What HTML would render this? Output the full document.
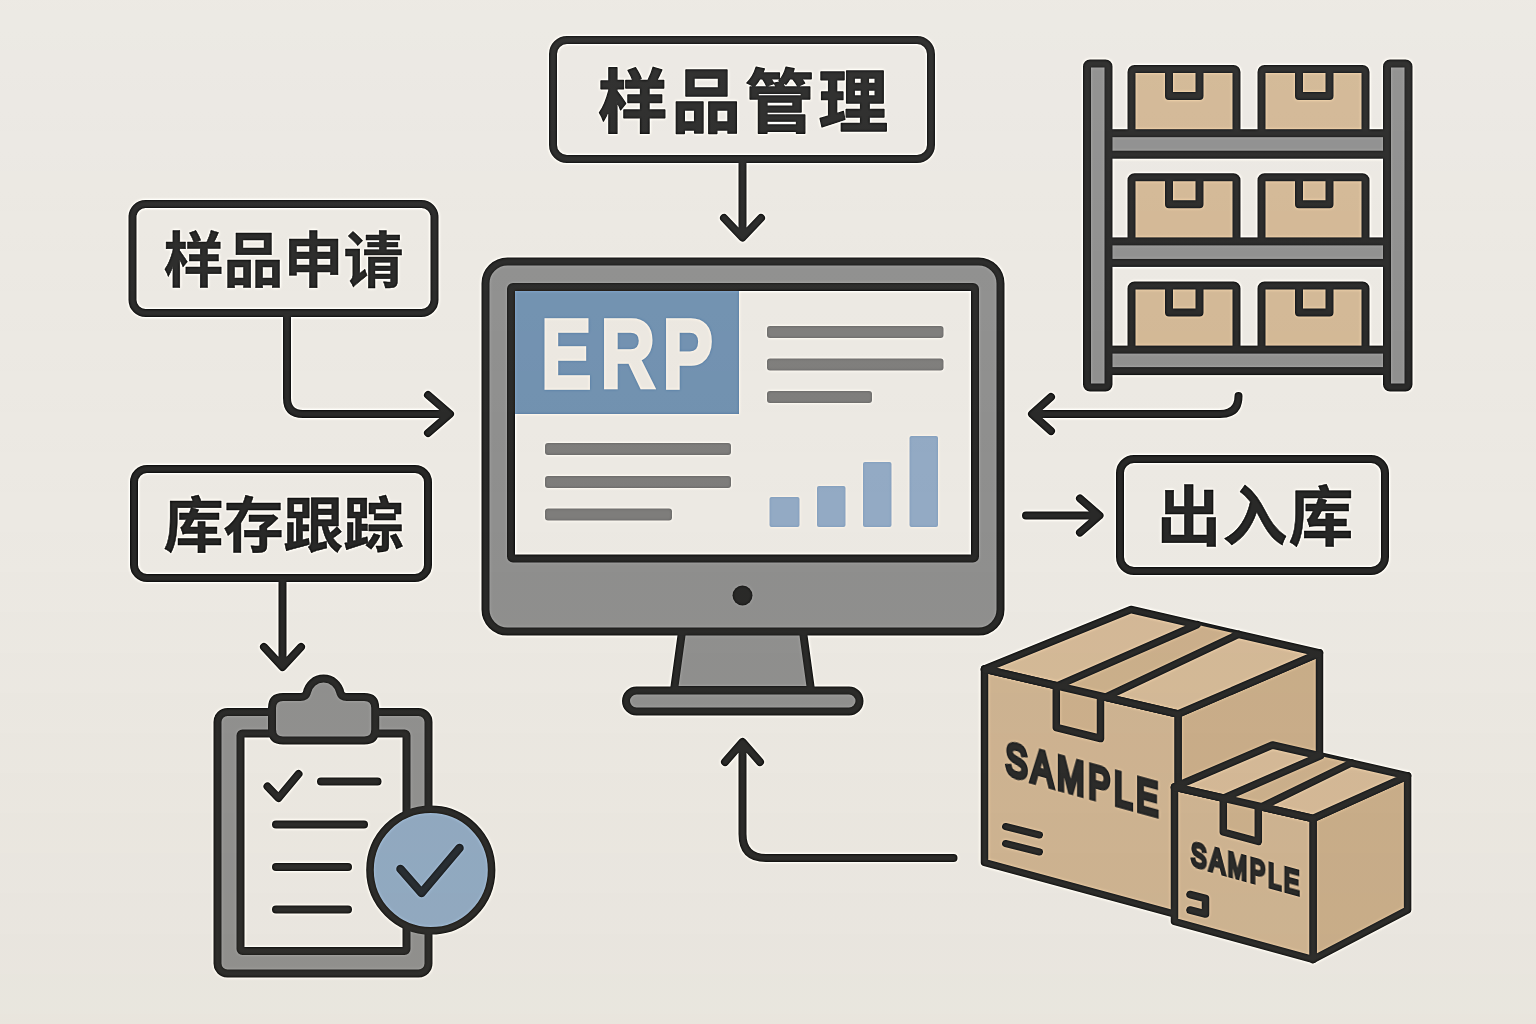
<!DOCTYPE html>
<html lang="zh-CN">
<head>
<meta charset="utf-8">
<title>ERP 样品管理</title>
<style>
html,body{margin:0;padding:0;background:#ece9e3;}
body{width:1536px;height:1024px;overflow:hidden;font-family:'Liberation Sans','Noto Sans CJK SC',sans-serif;}
svg{display:block;}
</style>
</head>
<body>
<svg width="1536" height="1024" viewBox="0 0 1536 1024">
<defs>
<linearGradient id="bgg" x1="0" y1="0" x2="0" y2="1">
<stop offset="0" stop-color="#fff" stop-opacity="0.05"/>
<stop offset="0.5" stop-color="#fff" stop-opacity="0"/>
<stop offset="0.5" stop-color="#b4a680" stop-opacity="0"/>
<stop offset="1" stop-color="#b4a680" stop-opacity="0.05"/>
</linearGradient>
<filter id="sharp" filterUnits="userSpaceOnUse" x="-40" y="-40" width="1616" height="1104" color-interpolation-filters="sRGB">
<feGaussianBlur in="SourceGraphic" stdDeviation="1.7" result="b"/>
<feComposite in="SourceGraphic" in2="b" operator="arithmetic" k1="0" k2="1.35" k3="-0.35" k4="0"/>
</filter>
</defs>
<g filter="url(#sharp)">
<rect x="-40" y="-40" width="1616" height="1104" fill="#ece9e3"/>
<!-- labels -->
<rect x="553" y="40" width="378" height="119" rx="14" ry="14" fill="none" stroke="#292928" stroke-width="8"/>
<text x="745" y="126.5" font-family="'Liberation Sans','Noto Sans CJK SC',sans-serif" font-weight="700" font-size="69.5" fill="#292928" stroke="#292928" stroke-width="1.4" stroke-linejoin="round" letter-spacing="4" text-anchor="middle">样品管理</text>
<rect x="132.5" y="204" width="302.0" height="109" rx="13" ry="13" fill="none" stroke="#292928" stroke-width="8"/>
<text x="283.5" y="281.5" font-family="'Liberation Sans','Noto Sans CJK SC',sans-serif" font-weight="700" font-size="60" fill="#292928" stroke="#292928" stroke-width="0.5" stroke-linejoin="round" letter-spacing="0" text-anchor="middle">样品申请</text>
<rect x="134" y="469" width="294" height="109" rx="13" ry="13" fill="none" stroke="#292928" stroke-width="8"/>
<text x="283.5" y="547" font-family="'Liberation Sans','Noto Sans CJK SC',sans-serif" font-weight="700" font-size="60" fill="#292928" stroke="#292928" stroke-width="0.5" stroke-linejoin="round" letter-spacing="0" text-anchor="middle">库存跟踪</text>
<rect x="1120" y="459" width="265" height="112" rx="14" ry="14" fill="none" stroke="#292928" stroke-width="8"/>
<text x="1255.5" y="540" font-family="'Liberation Sans','Noto Sans CJK SC',sans-serif" font-weight="700" font-size="65" fill="#292928" stroke="#292928" stroke-width="0.5" stroke-linejoin="round" letter-spacing="1" text-anchor="middle">出入库</text>
<!-- arrows -->
<path d="M742.5 163V237 M724 218L742.5 237.5L761 218" fill="none" stroke="#292928" stroke-width="8" stroke-linecap="round" stroke-linejoin="round"/>
<path d="M287 317V398Q287 414 303 414H449 M428 395L450 414L428 433" fill="none" stroke="#292928" stroke-width="8" stroke-linecap="round" stroke-linejoin="round"/>
<path d="M282.5 582V666 M264 647L282.5 667L301 647" fill="none" stroke="#292928" stroke-width="8" stroke-linecap="round" stroke-linejoin="round"/>
<path d="M1238.5 396Q1238.5 414 1220 414H1033 M1051 397L1032 414L1051 431" fill="none" stroke="#292928" stroke-width="8" stroke-linecap="round" stroke-linejoin="round"/>
<path d="M1026 515.5H1099 M1080 498.5L1099.5 515.5L1080 532.5" fill="none" stroke="#292928" stroke-width="8" stroke-linecap="round" stroke-linejoin="round"/>
<path d="M953.5 858H766Q742.5 858 742.5 834V744 M725 762L742.5 742L760 762" fill="none" stroke="#292928" stroke-width="8" stroke-linecap="round" stroke-linejoin="round"/>
<!-- monitor -->
<path d="M682.5 628L674 690H811L802.5 628" fill="#8f8f8e" stroke="#292928" stroke-width="8" stroke-linejoin="round"/>
<rect x="626" y="690.5" width="233.5" height="21" rx="10.5" fill="#8f8f8e" stroke="#292928" stroke-width="8"/>
<rect x="485.5" y="261.5" width="515" height="370" rx="22" fill="#8f8f8e" stroke="#292928" stroke-width="8"/>
<rect x="511" y="287" width="464" height="271.5" rx="2" fill="#ece9e3" stroke="#292928" stroke-width="8" stroke-linejoin="round"/>
<rect x="515" y="291" width="224" height="123" fill="#7191b0"/>
<text transform="translate(540.8 388) scale(0.77 1)" x="0 77.3 157.8" y="0" font-family="'Liberation Sans',sans-serif" font-weight="700" font-size="99" fill="#ece8e1" stroke="#ece8e1" stroke-width="3" stroke-linejoin="miter" vector-effect="non-scaling-stroke">ERP</text>
<rect x="767" y="326.0" width="176.5" height="12" rx="3" fill="#7e7d7b"/>
<rect x="767" y="358.5" width="176.5" height="12" rx="3" fill="#7e7d7b"/>
<rect x="767" y="391.0" width="105" height="12" rx="3" fill="#7e7d7b"/>
<rect x="545" y="443.0" width="186" height="12" rx="3" fill="#7e7d7b"/>
<rect x="545" y="476.0" width="186" height="12" rx="3" fill="#7e7d7b"/>
<rect x="545" y="508.5" width="127" height="12" rx="3" fill="#7e7d7b"/>
<rect x="769.5" y="497" width="30.0" height="30" rx="2" fill="#93aac4"/>
<rect x="817" y="486" width="28.5" height="41" rx="2" fill="#93aac4"/>
<rect x="863" y="462" width="28.5" height="65" rx="2" fill="#93aac4"/>
<rect x="909.5" y="436" width="28.5" height="91" rx="2" fill="#93aac4"/>
<circle cx="742.5" cy="595.5" r="10" fill="#292928"/>
<!-- shelf -->
<rect x="1131.5" y="69.0" width="105" height="66" rx="3" fill="#d3b895" stroke="#292928" stroke-width="8" stroke-linejoin="round"/>
<path d="M1169.0 69.0V96.0H1199.5V69.0" fill="none" stroke="#292928" stroke-width="8" stroke-linejoin="round"/>
<rect x="1261.5" y="69.0" width="104" height="66" rx="3" fill="#d3b895" stroke="#292928" stroke-width="8" stroke-linejoin="round"/>
<path d="M1299.0 69.0V96.0H1329.5V69.0" fill="none" stroke="#292928" stroke-width="8" stroke-linejoin="round"/>
<rect x="1108" y="133.2" width="279" height="21.5" fill="#8f8f8e" stroke="#292928" stroke-width="8"/>
<rect x="1131.5" y="177.2" width="105" height="66" rx="3" fill="#d3b895" stroke="#292928" stroke-width="8" stroke-linejoin="round"/>
<path d="M1169.0 177.2V204.2H1199.5V177.2" fill="none" stroke="#292928" stroke-width="8" stroke-linejoin="round"/>
<rect x="1261.5" y="177.2" width="104" height="66" rx="3" fill="#d3b895" stroke="#292928" stroke-width="8" stroke-linejoin="round"/>
<path d="M1299.0 177.2V204.2H1329.5V177.2" fill="none" stroke="#292928" stroke-width="8" stroke-linejoin="round"/>
<rect x="1108" y="241.4" width="279" height="21.5" fill="#8f8f8e" stroke="#292928" stroke-width="8"/>
<rect x="1131.5" y="285.4" width="105" height="66" rx="3" fill="#d3b895" stroke="#292928" stroke-width="8" stroke-linejoin="round"/>
<path d="M1169.0 285.4V312.4H1199.5V285.4" fill="none" stroke="#292928" stroke-width="8" stroke-linejoin="round"/>
<rect x="1261.5" y="285.4" width="104" height="66" rx="3" fill="#d3b895" stroke="#292928" stroke-width="8" stroke-linejoin="round"/>
<path d="M1299.0 285.4V312.4H1329.5V285.4" fill="none" stroke="#292928" stroke-width="8" stroke-linejoin="round"/>
<rect x="1108" y="349.6" width="279" height="21.5" fill="#8f8f8e" stroke="#292928" stroke-width="8"/>
<rect x="1087" y="63.5" width="21.5" height="324" rx="3" fill="#8f8f8e" stroke="#292928" stroke-width="8" stroke-linejoin="round"/>
<rect x="1387" y="63.5" width="21.5" height="324" rx="3" fill="#8f8f8e" stroke="#292928" stroke-width="8" stroke-linejoin="round"/>
<!-- clipboard -->
<rect x="217.5" y="712" width="211" height="261.5" rx="10" fill="#8f8f8e" stroke="#292928" stroke-width="8"/>
<rect x="240.5" y="733.5" width="166" height="217.5" rx="2" fill="#ece9e3" stroke="#292928" stroke-width="8" stroke-linejoin="round"/>
<path d="M283 697H300.5Q305.5 697 306.8 693A17 17 0 0 1 340.4 693Q341.7 697 346.7 697H364.25Q375.25 697 375.25 708V729.5Q375.25 740.5 364.25 740.5H283Q272 740.5 272 729.5V708Q272 697 283 697Z" fill="#8f8f8e" stroke="#292928" stroke-width="8" stroke-linejoin="round"/>
<path d="M267.5 786.5L278.5 798L298.5 774" fill="none" stroke="#292928" stroke-width="8" stroke-linecap="round" stroke-linejoin="round"/>
<path d="M321 781.500H377.500" fill="none" stroke="#292928" stroke-width="8" stroke-linecap="round" stroke-linejoin="round"/>
<path d="M276 824.500H364" fill="none" stroke="#292928" stroke-width="8" stroke-linecap="round" stroke-linejoin="round"/>
<path d="M276 867H348" fill="none" stroke="#292928" stroke-width="8" stroke-linecap="round" stroke-linejoin="round"/>
<path d="M276 909.500H348" fill="none" stroke="#292928" stroke-width="8" stroke-linecap="round" stroke-linejoin="round"/>
<circle cx="430.8" cy="870" r="60.8" fill="#90a9c2" stroke="#292928" stroke-width="7.6"/>
<path d="M400.5 869L421.5 893L459.5 848" fill="none" stroke="#242a30" stroke-width="8.5" stroke-linecap="round" stroke-linejoin="round"/>
<!-- boxes -->
<path d="M1178 714L1319.5 653L1319.5 850L1178 915Z" fill="#c9ad89" stroke="#292928" stroke-width="7.5" stroke-linejoin="round"/>
<path d="M984.5 669L1178 714L1178 915L984.5 862.5Z" fill="#ceb391" stroke="#292928" stroke-width="7.5" stroke-linejoin="round"/>
<path d="M984.5 669L1131 609.5L1319.5 653L1178 714Z" fill="#d4b997" stroke="#292928" stroke-width="7.5" stroke-linejoin="round"/>
<path d="M1057.1 685.9L1197.0 624.7L1238.3 634.3L1105.6 697.2Z" fill="#cbaf8b" stroke="none"/>
<path d="M1057.1 685.9L1197.0 624.7 M1105.6 697.2L1238.3 634.3" fill="none" stroke="#292928" stroke-width="7.5" stroke-linecap="round" stroke-linejoin="round"/>
<path d="M1056.3 684V727.5L1100.5 738.5V694" fill="#cbaf8b" stroke="#292928" stroke-width="7.5" stroke-linejoin="round"/>
<path d="M984.5 669.0L1178.0 714.0" fill="none" stroke="#292928" stroke-width="7.5" stroke-linecap="round" stroke-linejoin="round"/>
<text transform="matrix(0.70 0.192 0 1 1005.5 774)" font-family="'Liberation Sans',sans-serif" font-weight="400" font-size="47" letter-spacing="5.5" fill="#292928" stroke="#292928" stroke-width="4.6" stroke-linejoin="miter" stroke-miterlimit="2.5" vector-effect="non-scaling-stroke" style="will-change:transform">SAMPLE</text>
<path d="M1005.5 826.5L1039.5 835 M1005.5 843.5L1039.5 852" fill="none" stroke="#292928" stroke-width="7" stroke-linecap="round" stroke-linejoin="round"/>
<path d="M1313 818.5L1407.6 775.8L1407.6 910L1313 959.5Z" fill="#c9ad89" stroke="#292928" stroke-width="7.5" stroke-linejoin="round"/>
<path d="M1174.5 787L1313 818.5L1313 959.5L1174.5 921.5Z" fill="#ceb391" stroke="#292928" stroke-width="7.5" stroke-linejoin="round"/>
<path d="M1174.5 787L1272.5 745L1407.6 775.8L1313 818.5Z" fill="#d4b997" stroke="#292928" stroke-width="7.5" stroke-linejoin="round"/>
<path d="M1223.5 798.2L1320.3 755.9L1351.4 763.0L1261.5 806.8Z" fill="#cbaf8b" stroke="none"/>
<path d="M1223.5 798.2L1320.3 755.9 M1261.5 806.8L1351.4 763.0" fill="none" stroke="#292928" stroke-width="7.5" stroke-linecap="round" stroke-linejoin="round"/>
<path d="M1223.3 798V832L1258.3 841.5V806" fill="#cbaf8b" stroke="#292928" stroke-width="7.5" stroke-linejoin="round"/>
<path d="M1174.5 787.0L1313.0 818.5" fill="none" stroke="#292928" stroke-width="7.5" stroke-linecap="round" stroke-linejoin="round"/>
<text transform="matrix(0.70 0.1925 0 1 1191 865)" font-family="'Liberation Sans',sans-serif" font-weight="400" font-size="33" letter-spacing="4.2" fill="#292928" stroke="#292928" stroke-width="3.6" stroke-linejoin="miter" stroke-miterlimit="2.5" vector-effect="non-scaling-stroke" style="will-change:transform">SAMPLE</text>
<path d="M1190 894.5L1205.5 898.5V914L1190 910" fill="none" stroke="#292928" stroke-width="7.5" stroke-linecap="round" stroke-linejoin="round"/>
</g>
<rect width="1536" height="1024" fill="url(#bgg)"/>
</svg>
</body>
</html>
